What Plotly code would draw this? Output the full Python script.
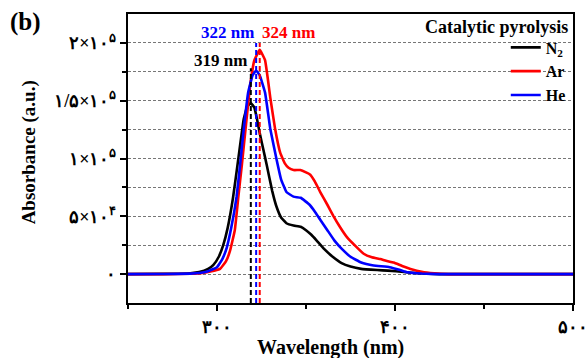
import plotly.graph_objects as go

# ---- data ----
n2_wl = [250, 270, 285, 290, 295, 298, 301, 303.5, 306, 309, 312, 315, 317, 319, 321, 322.5, 324, 326, 328, 331,
         333.5, 336, 339, 343, 347, 350, 353, 356, 360, 365, 370, 375, 381, 390, 396, 405, 413, 425, 500]
n2_val = [0, 200, 800, 1800, 4500, 8000, 15000, 25000, 40000, 66000, 100000, 134000, 145000, 148000, 144000, 134000,
          122000, 108000, 94000, 72000, 58000, 49000, 44000, 42000, 41000, 38000, 34000, 29000, 22000, 15000, 9500,
          6500, 4500, 3500, 3000, 1800, 700, 0, 0]

he_wl = [250, 270, 285, 290, 295, 300, 303, 305.5, 308, 311, 313, 315, 317.5, 320, 322, 324, 327, 330, 333.5, 336,
         339, 343, 347, 352, 355, 358, 362, 366, 370, 375, 381, 388, 397, 403, 407, 415, 425, 500]
he_val = [0, 100, 400, 900, 2500, 6000, 13000, 23000, 40000, 67000, 95000, 125000, 157000, 172000, 176000, 172000,
          157000, 125000, 99000, 82000, 71000, 67000, 66000, 60000, 54000, 47000, 38000, 29000, 22000, 15000, 10000,
          7400, 6000, 3500, 1600, 500, 0, 0]

ar_wl = [250, 270, 285, 292, 297, 301.7, 305, 307.3, 310, 312, 314, 316, 318.6, 321, 324, 327, 330, 332.7, 335.5,
         338, 340.2, 343, 346.8, 350, 352.4, 355, 358, 362, 365.5, 369, 373, 378, 382.4, 387, 391.8, 395, 399.3, 404,
         408.7, 415, 422, 430, 500]
ar_val = [0, 0, 300, 1000, 2500, 4500, 11000, 20000, 38000, 67000, 95000, 125000, 163000, 185000, 194000, 185000,
          152000, 125000, 105000, 96000, 92000, 90000, 90000, 88000, 86000, 80000, 71000, 60000, 50000, 41000, 32000,
          24000, 17600, 14500, 13000, 11500, 10000, 7000, 4500, 2000, 700, 0, 0]

series_names = ["N<sub>2</sub>", "Ar", "He"]
series_colors = ["#000000", "#ff0000", "#0000ff"]

peak_wl = [319, 322, 324]
peak_labels = ["319 nm", "322 nm", "324 nm"]
peak_colors = ["#000000", "#0000ff", "#ff0000"]
peak_line_top = [178000, 200000, 200000]
peak_label_x = [301.8, 305.8, 340.0]
peak_label_y = [185000, 209000, 209000]

x_tickvals = [300, 400, 500]
x_ticktext = ["۳۰۰", "۴۰۰", "۵۰۰"]
y_tickvals = [0, 50000, 100000, 150000, 200000]
y_ticktext = ["۰", "۵×۱۰<sup>۴</sup>", "۱×۱۰<sup>۵</sup>", "۱/۵×۱۰<sup>۵</sup>", "۲×۱۰<sup>۵</sup>"]

FONT = "Liberation Serif, Times New Roman, serif"

fig = go.Figure()
for wl, val, name, col in zip([n2_wl, ar_wl, he_wl], [n2_val, ar_val, he_val], series_names, series_colors):
    fig.add_trace(go.Scatter(x=wl, y=val, mode="lines", name=name,
                             line=dict(color=col, width=2.6, shape="spline", smoothing=0.3)))

for px, top, col in zip(peak_wl, peak_line_top, peak_colors):
    fig.add_shape(type="line", x0=px, x1=px, xref="x", y0=-25000, y1=top, yref="y",
                  line=dict(color=col, width=2, dash="5px,3px"), layer="above")

for lx, ly, txt, col in zip(peak_label_x, peak_label_y, peak_labels, peak_colors):
    fig.add_annotation(x=lx, y=ly, xref="x", yref="y", text="<b>%s</b>" % txt, showarrow=False,
                       font=dict(family=FONT, size=17, color=col))

fig.add_annotation(x=0.993, y=0.955, xref="paper", yref="paper", text="<b>Catalytic pyrolysis</b>",
                   showarrow=False, xanchor="right", yanchor="middle",
                   font=dict(family=FONT, size=18, color="black"))
fig.add_annotation(x=-0.27, y=0.972, xref="paper", yref="paper", text="<b>(b)</b>",
                   showarrow=False, xanchor="left", yanchor="middle",
                   font=dict(family=FONT, size=25, color="black"))
fig.add_annotation(x=0.454, y=-0.153, xref="paper", yref="paper", text="<b>Wavelength (nm)</b>",
                   showarrow=False, xanchor="center", yanchor="middle",
                   font=dict(family=FONT, size=20, color="black"))
fig.add_annotation(x=-0.222, y=0.522, xref="paper", yref="paper", text="<b>Absorbance (a.u.)</b>",
                   showarrow=False, xanchor="center", yanchor="middle", textangle=-90,
                   font=dict(family=FONT, size=19, color="black"))

fig.update_layout(
    width=587, height=358,
    margin=dict(l=128, r=14, t=14, b=55),
    paper_bgcolor="white", plot_bgcolor="white",
    font=dict(family=FONT, color="black"),
    showlegend=True,
    legend=dict(x=0.995, y=0.943, xanchor="right", yanchor="top", bgcolor="rgba(0,0,0,0)",
                font=dict(family=FONT, size=16, color="black", weight="bold"),
                tracegroupgap=0, itemwidth=30),
    xaxis=dict(range=[250, 500], tickvals=x_tickvals, ticktext=x_ticktext, automargin=False,
               ticklabeloverflow="allow",
               showline=True, linewidth=2, linecolor="black", mirror=True,
               ticks="outside", ticklen=6, tickwidth=2, tickcolor="black",
               showgrid=False, zeroline=False,
               minor=dict(tickvals=[250, 350, 450], ticks="outside", ticklen=4, tickwidth=2, tickcolor="black"),
               tickfont=dict(family=FONT, size=18, weight="bold")),
    yaxis=dict(range=[-25000, 225000], tickvals=y_tickvals, ticktext=y_ticktext, automargin=False,
               showline=True, linewidth=2, linecolor="black", mirror=True,
               ticks="outside", ticklen=6, tickwidth=2, tickcolor="black",
               showgrid=True, gridcolor="#777777", gridwidth=1, griddash="3px,2px", zeroline=False,
               minor=dict(tickvals=[25000, 75000, 125000, 175000], ticks="outside", ticklen=4, tickwidth=2,
                          tickcolor="black", showgrid=True, gridcolor="#777777", gridwidth=1, griddash="3px,2px"),
               tickfont=dict(family=FONT, size=18, weight="bold")),
)

fig.write_html("out.html", config={"displayModeBar": False},
               post_script="document.body.style.margin='0px';")
